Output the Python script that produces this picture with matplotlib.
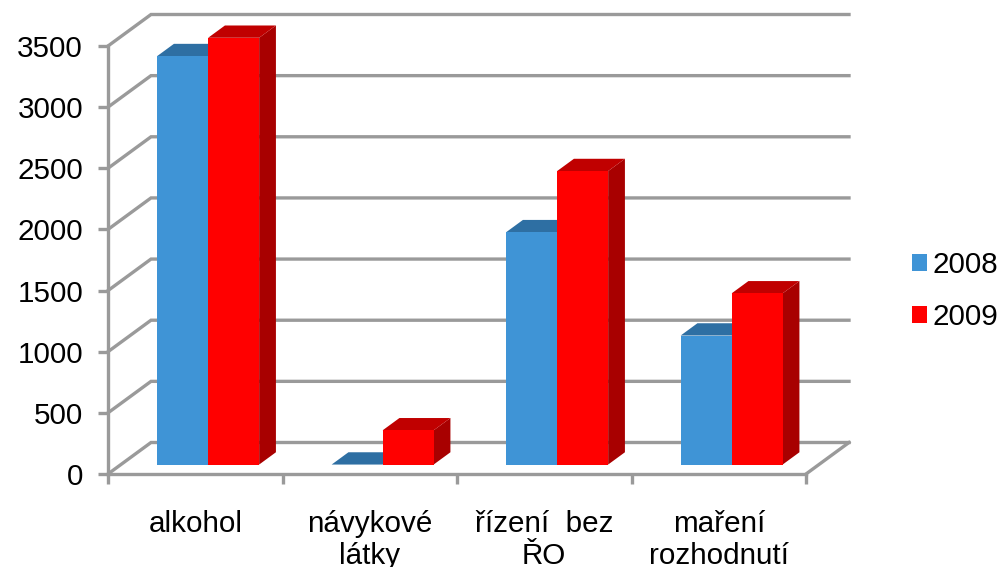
import matplotlib

matplotlib.use("Agg")

import matplotlib.pyplot as plt
from matplotlib.patches import Patch

CATEGORIES = ["alkohol", "návykové\nlátky", "řízení  bez\nŘO", "maření\nrozhodnutí"]
VALUES_2008 = [3340, 0, 1900, 1055]
VALUES_2009 = [3490, 280, 2400, 1400]
Y_TICKS = [0, 500, 1000, 1500, 2000, 2500, 3000, 3500]

W, H = 1001, 567
X0, X1 = 108, 806
Y0, Y1 = 474, 46
BACK_DX, BACK_DY = 43, 31.5
BAR_W = 51 / 174.5
BAR_NEAR, BAR_FAR = 0.30, 0.69

GRID = "#9a9a9a"
GRID_LW = 2.4
BLUE, BLUE_TOP, BLUE_SIDE = "#3f94d6", "#2e6fa3", "#2a6494"
RED, RED_TOP, RED_SIDE = "#ff0000", "#c00000", "#a80000"

plt.rcParams["font.family"] = ["Liberation Sans", "DejaVu Sans"]
FONT = 21.3

UNIT_X = 4 / (X1 - X0)
UNIT_Y = 3500 / (Y0 - Y1)


def project(x, v, depth):
    # oblique projection of the fake 3d box, depth 0 is front and 1 is back wall
    return x + depth * BACK_DX * UNIT_X, v + depth * BACK_DY * UNIT_Y


def face(ax, points, color, zorder):
    xs, ys = zip(*[project(*p) for p in points])
    ax.fill(xs, ys, color=color, lw=0, clip_on=False, zorder=zorder)


def draw_bar(ax, left, value, colors, zorder):
    front, top, side = colors
    right = left + BAR_W
    n, f = BAR_NEAR, BAR_FAR
    face(ax, [(right, 0, n), (right, 0, f), (right, value, f), (right, value, n)], side, zorder)
    face(ax, [(left, value, n), (right, value, n), (right, value, f), (left, value, f)], top, zorder)
    face(ax, [(left, 0, n), (right, 0, n), (right, value, n), (left, value, n)], front, zorder)


def main():
    fig = plt.figure(figsize=(W / 100, H / 100), dpi=100)
    ax = fig.add_axes([X0 / W, 1 - Y0 / H, (X1 - X0) / W, (Y0 - Y1) / H])
    ax.set_xlim(0, 4)
    ax.set_ylim(0, 3500)

    for spine in ["top", "right"]:
        ax.spines[spine].set_visible(False)
    for spine in ["left", "bottom"]:
        ax.spines[spine].set_color(GRID)
        ax.spines[spine].set_linewidth(GRID_LW)

    # back wall grid and floor
    for v in Y_TICKS:
        xs, ys = zip(project(0, v, 0), project(0, v, 1), project(4, v, 1))
        ax.plot(xs, ys, color=GRID, lw=GRID_LW, clip_on=False, zorder=1, solid_joinstyle="miter")
    xs, ys = zip(project(4, 0, 0), project(4, 0, 1))
    ax.plot(xs, ys, color=GRID, lw=GRID_LW, clip_on=False, zorder=1)

    for i in range(len(CATEGORIES)):
        center = i + 0.5
        draw_bar(ax, center - BAR_W, VALUES_2008[i], (BLUE, BLUE_TOP, BLUE_SIDE), 3)
        draw_bar(ax, center, VALUES_2009[i], (RED, RED_TOP, RED_SIDE), 4)

    ax.set_yticks(Y_TICKS)
    ax.set_xticks(range(5))
    ax.set_xticklabels([])
    ax.set_xticks([i + 0.5 for i in range(4)], minor=True)
    ax.set_xticklabels(CATEGORIES, minor=True, fontsize=FONT, linespacing=1.18)
    ax.tick_params(axis="x", which="minor", length=0, pad=26)
    ax.tick_params(axis="both", which="major", length=7, width=GRID_LW, color=GRID)
    ax.tick_params(axis="y", labelsize=FONT, pad=11)

    handles = [Patch(color=BLUE, lw=0), Patch(color=RED, lw=0)]
    fig.legend(
        handles,
        ["2008", "2009"],
        loc="center left",
        bbox_to_anchor=(912 / W, 1 - 291 / H),
        frameon=False,
        fontsize=FONT,
        handlelength=0.5,
        handleheight=0.5,
        handletextpad=0.2,
        labelspacing=0.82,
        borderpad=0,
        borderaxespad=0,
    )

    fig.savefig("out.png", dpi=100)
    plt.close(fig)


if __name__ == "__main__":
    main()
